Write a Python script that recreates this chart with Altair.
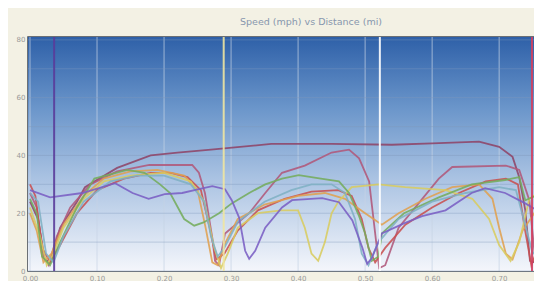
import altair as alt
import pandas as pd

# ---- data (distance in miles, speed in mph) ----
distance_ticks = [0.0, 0.1, 0.2, 0.3, 0.4, 0.5, 0.6, 0.7]
speed_ticks = [0, 10, 20, 30, 40, 50, 60, 70, 80]

top_d = [0, 0.012, 0.022, 0.03, 0.045, 0.07, 0.082, 0.13, 0.18, 0.22, 0.27, 0.36, 0.45, 0.54, 0.60, 0.67, 0.70, 0.72, 0.73, 0.739, 0.746, 0.752, 0.764]
top_s = [24, 18, 4, 3, 15, 24, 29, 35.7, 40, 41, 42, 44, 44, 43.7, 44.2, 44.8, 43, 39.5, 32.5, 21, 3.5, 3, 18]

mauve_d = [0, 0.01, 0.02, 0.028, 0.04, 0.06, 0.09, 0.13, 0.178, 0.242, 0.252, 0.261, 0.272, 0.276, 0.282, 0.291, 0.327, 0.351, 0.376, 0.41, 0.45, 0.476, 0.491, 0.506, 0.515, 0.521, 0.53, 0.55, 0.61, 0.63, 0.71, 0.73, 0.745, 0.754, 0.764]
mauve_s = [27, 22, 5, 2, 12, 22, 30, 34.5, 36.7, 36.7, 34, 27, 11.5, 3.5, 2, 13, 20, 27, 34, 36.5, 41, 42, 39, 31, 13, 1, 2, 15, 32, 36, 36.5, 35, 24.5, 3.5, 10]

red_d = [0, 0.008, 0.018, 0.03, 0.045, 0.07, 0.10, 0.14, 0.18, 0.21, 0.235, 0.255, 0.268, 0.278, 0.29, 0.31, 0.34, 0.38, 0.42, 0.46, 0.48, 0.495, 0.505, 0.515, 0.53, 0.56, 0.6, 0.64, 0.68, 0.71, 0.728, 0.738, 0.748, 0.764]
red_s = [30, 26, 8, 3, 9, 20, 28, 32, 34, 34, 32.5, 28, 15, 4, 6, 14, 21, 25, 27.5, 28, 26, 18, 8, 3, 8, 16, 22, 27, 31, 32, 30, 15, 2, 12]

orange_d = [0, 0.01, 0.02, 0.032, 0.05, 0.08, 0.11, 0.15, 0.19, 0.23, 0.25, 0.262, 0.272, 0.28, 0.292, 0.31, 0.35, 0.40, 0.44, 0.47, 0.50, 0.525, 0.55, 0.59, 0.63, 0.67, 0.69, 0.70, 0.71, 0.72, 0.735, 0.764]
orange_s = [20, 14, 3, 6, 16, 26, 32, 34.5, 35, 33, 28, 15, 3, 2, 10, 18, 23, 26, 27, 25, 20, 16, 20, 25, 29, 30, 25, 15, 6, 4, 14, 24]

yellow_d = [0, 0.015, 0.025, 0.035, 0.05, 0.08, 0.11, 0.15, 0.2, 0.24, 0.26, 0.275, 0.285, 0.295, 0.31, 0.34, 0.375, 0.40, 0.41, 0.42, 0.43, 0.44, 0.45, 0.46, 0.48, 0.52, 0.56, 0.62, 0.66, 0.685, 0.70, 0.717, 0.73, 0.745, 0.764]
yellow_s = [22, 12, 2, 6, 15, 25, 31, 33, 34, 31, 24, 8, 1, 6, 15, 20, 21, 21, 15, 6, 3.5, 10, 20, 24, 29, 30, 29, 28, 25, 18, 9, 3.5, 10, 25, 28]

green_d = [0, 0.01, 0.018, 0.03, 0.045, 0.07, 0.096, 0.145, 0.171, 0.194, 0.209, 0.23, 0.245, 0.259, 0.282, 0.301, 0.327, 0.351, 0.376, 0.401, 0.434, 0.461, 0.476, 0.491, 0.5, 0.51, 0.52, 0.525, 0.558, 0.61, 0.659, 0.709, 0.73, 0.739, 0.764]
green_s = [25, 20, 5, 2, 10, 22, 32, 35, 34, 30, 27, 18, 15.7, 16.8, 20, 23.4, 27, 30, 32, 33.2, 32, 31, 27, 19, 13, 3.5, 5, 13, 20, 25.5, 30, 31.5, 32.5, 24.5, 27]

teal_d = [0, 0.012, 0.024, 0.035, 0.05, 0.08, 0.12, 0.16, 0.2, 0.24, 0.26, 0.27, 0.28, 0.29, 0.31, 0.35, 0.39, 0.42, 0.45, 0.47, 0.485, 0.495, 0.505, 0.52, 0.55, 0.6, 0.65, 0.7, 0.725, 0.74, 0.75, 0.764]
teal_s = [27, 24, 6, 3, 12, 24, 31, 33, 33, 30, 24, 12, 5, 8, 17, 24, 28, 30, 30, 27, 18, 6, 2, 10, 18, 24, 27, 29, 28, 15, 6, 9]

purple_d = [0, 0.03, 0.078, 0.127, 0.153, 0.177, 0.201, 0.227, 0.252, 0.272, 0.291, 0.301, 0.312, 0.321, 0.327, 0.336, 0.351, 0.376, 0.391, 0.436, 0.461, 0.481, 0.496, 0.503, 0.510, 0.525, 0.558, 0.585, 0.620, 0.659, 0.679, 0.709, 0.739, 0.764]
purple_s = [28, 25.5, 27, 30.4, 27, 25, 26.6, 27, 28.3, 29.4, 28.3, 24.5, 18.5, 7, 4.2, 7, 15, 22, 24.5, 25.2, 23.8, 17.5, 8, 2.5, 4.5, 13, 16.5, 19, 21, 27, 28.7, 27, 23.4, 20]

series_names = ["top", "mauve", "red", "orange", "yellow", "green", "teal", "purple"]
series_colors = ["#8e4468", "#b0587a", "#c85050", "#e0a050", "#d8cc60", "#74ac5c", "#7fb0c4", "#7a5ec4"]
series_data = [(top_d, top_s), (mauve_d, mauve_s), (red_d, red_s), (orange_d, orange_s),
               (yellow_d, yellow_s), (green_d, green_s), (teal_d, teal_s), (purple_d, purple_s)]

marker_d = [0.036, 0.289, 0.522, 0.749]
marker_colors = ["#5a3c9a", "#efe6a0", "#ffffff", "#d04060"]

# ---- build tables ----
rows = []
for name, (ds, ss) in zip(series_names, series_data):
    for i, (d, s) in enumerate(zip(ds, ss)):
        rows.append({"series": name, "i": i, "d": d, "s": s})
df = pd.DataFrame(rows)
markers = pd.DataFrame({"d": marker_d, "c": marker_colors})
xgrid = pd.DataFrame({"d": distance_ticks})
ygrid = pd.DataFrame({"s": speed_ticks})

W, H = 506, 234
xscale = alt.Scale(domain=[-0.003, 0.752], nice=False, zero=False)
yscale = alt.Scale(domain=[0, 81], nice=False)

bg = alt.Chart(alt.Data(values=[{"a": 1}])).mark_rect(
    color=alt.Gradient(
        gradient="linear",
        stops=[alt.GradientStop(color="#2e60a8", offset=0),
               alt.GradientStop(color="#6a95ca", offset=0.3),
               alt.GradientStop(color="#a9c2e2", offset=0.6),
               alt.GradientStop(color="#f4f6fb", offset=1)],
        x1=0, x2=0, y1=0, y2=1)
).encode(x=alt.value(0), x2=alt.value(W), y=alt.value(0), y2=alt.value(H))

vgrid = alt.Chart(xgrid).mark_rule(color="#c6d3e4", strokeWidth=1, opacity=0.7).encode(
    x=alt.X("d:Q", scale=xscale,
            axis=alt.Axis(values=distance_ticks, format=".2f", title=None, grid=False,
                          ticks=False, domain=False, labelFontSize=7, labelColor="#999999",
                          labelPadding=3, labelFont="DejaVu Sans")))

hgrid = alt.Chart(ygrid).mark_rule(color="#7f98bc", strokeWidth=1, opacity=0.4).encode(
    y=alt.Y("s:Q", scale=yscale,
            axis=alt.Axis(values=speed_ticks, title=None, grid=False, ticks=False,
                          domain=False, labelFontSize=7, labelColor="#999999",
                          labelPadding=3, labelFont="DejaVu Sans")))

lines = alt.Chart(df).mark_line(strokeWidth=1.8, opacity=0.88, clip=True).encode(
    x=alt.X("d:Q", scale=xscale),
    y=alt.Y("s:Q", scale=yscale),
    color=alt.Color("series:N", scale=alt.Scale(domain=series_names, range=series_colors), legend=None),
    order="i:Q",
)

marks = alt.Chart(markers).mark_rule(strokeWidth=2, opacity=0.9, clip=True).encode(
    x=alt.X("d:Q", scale=xscale),
    color=alt.Color("c:N", scale=None),
)

chart = alt.layer(bg, vgrid, hgrid, lines, marks).properties(
    width=W, height=H,
    padding={"left": 20, "top": 29, "right": 0, "bottom": 10},
    autosize=alt.AutoSizeParams(type="none"),
    background="#f3f1e4",
    title=alt.TitleParams("Speed (mph) vs Distance (mi)", fontSize=9.5, color="#8797ae",
                          font="DejaVu Sans", fontWeight="normal", offset=9, dx=30),
).configure_view(stroke="#3f4650", strokeWidth=1.5)

chart.save("out.html", embed_options={"renderer": "svg", "actions": False})
